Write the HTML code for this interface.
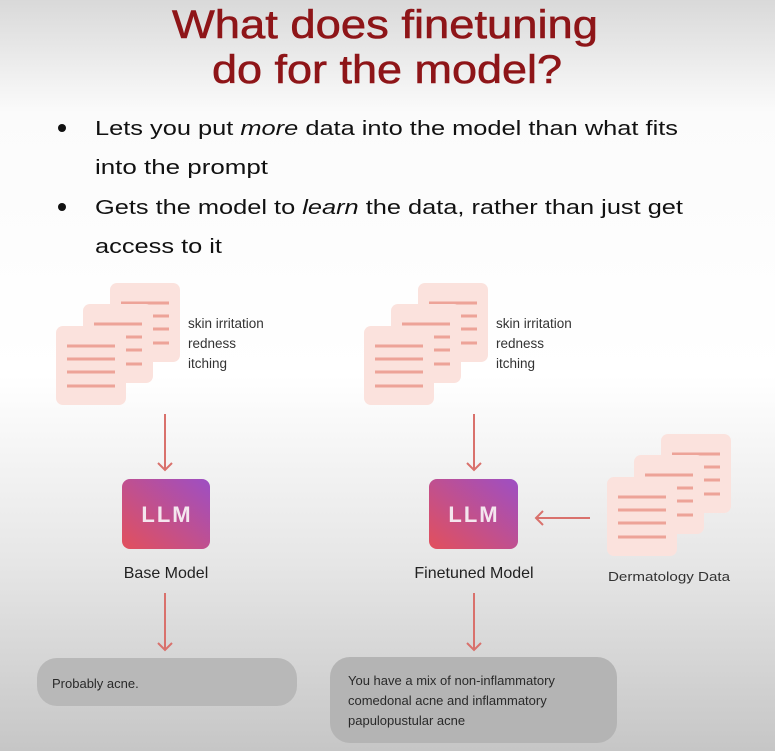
<!DOCTYPE html>
<html><head><meta charset="utf-8"><style>
html,body{margin:0;padding:0;}
body{width:775px;height:751px;overflow:hidden;font-family:"Liberation Sans",sans-serif;}
</style></head><body>
<svg width="775" height="751" viewBox="0 0 775 751" xmlns="http://www.w3.org/2000/svg" font-family="Liberation Sans, sans-serif">
<defs>
<linearGradient id="bg" x1="0" y1="0" x2="0" y2="1">
<stop offset="0" stop-color="#d9d9d9"/>
<stop offset="0.15" stop-color="#fbfbfb"/>
<stop offset="0.5" stop-color="#ffffff"/>
<stop offset="0.75" stop-color="#e6e6e6"/>
<stop offset="1" stop-color="#c6c6c6"/>
</linearGradient>
<linearGradient id="llm" x1="0" y1="1" x2="1" y2="0">
<stop offset="0" stop-color="#e2505c"/>
<stop offset="1" stop-color="#9d4fc4"/>
</linearGradient>
<g id="doc">
<rect x="0" y="0" width="70" height="79" rx="7" fill="#fbe2dd"/>
<g stroke="#eda398" stroke-width="3">
<line x1="11" y1="20" x2="59" y2="20"/><line x1="11" y1="33" x2="59" y2="33"/>
<line x1="11" y1="46" x2="59" y2="46"/><line x1="11" y1="60" x2="59" y2="60"/>
</g>
</g>
<g id="stack">
<use href="#doc" x="54" y="-43"/>
<use href="#doc" x="27" y="-22"/>
<use href="#doc" x="0" y="0"/>
</g>
</defs>
<rect width="775" height="751" fill="url(#bg)"/>
<g fill="#8e1518" stroke="#8e1518" stroke-width="0.6" font-size="40">
<text x="172" y="38" textLength="426" lengthAdjust="spacingAndGlyphs">What does finetuning</text>
<text x="212" y="83" textLength="350" lengthAdjust="spacingAndGlyphs">do for the model?</text>
</g>
<g fill="#111" font-size="20">
<circle cx="62" cy="128" r="4"/><circle cx="62" cy="207" r="4"/>
<text x="95" y="135" textLength="583" lengthAdjust="spacingAndGlyphs">Lets you put <tspan font-style="italic">more</tspan> data into the model than what fits</text>
<text x="95" y="174" textLength="173" lengthAdjust="spacingAndGlyphs">into the prompt</text>
<text x="95" y="214" textLength="588" lengthAdjust="spacingAndGlyphs">Gets the model to <tspan font-style="italic">learn</tspan> the data, rather than just get</text>
<text x="95" y="253" textLength="127" lengthAdjust="spacingAndGlyphs">access to it</text>
</g>
<use href="#stack" x="56" y="326"/>
<use href="#stack" x="364" y="326"/>
<use href="#stack" x="607" y="477"/>
<g fill="#333" font-size="13.5">
<text x="188" y="328">skin irritation</text><text x="188" y="348">redness</text><text x="188" y="368">itching</text>
<text x="496" y="328">skin irritation</text><text x="496" y="348">redness</text><text x="496" y="368">itching</text>
<text x="608" y="581" font-size="13" textLength="122" lengthAdjust="spacingAndGlyphs">Dermatology Data</text>
</g>
<g stroke="#d9716c" stroke-width="2" fill="none">
<path d="M165 414V470M158 463L165 470L172 463"/>
<path d="M474 414V470M467 463L474 470L481 463"/>
<path d="M165 593V650M158 643L165 650L172 643"/>
<path d="M474 593V650M467 643L474 650L481 643"/>
<path d="M590 518H536M543 511L536 518L543 525"/>
</g>
<rect x="122" y="479" width="88" height="70" rx="8" fill="url(#llm)"/>
<rect x="429" y="479" width="89" height="70" rx="8" fill="url(#llm)"/>
<g fill="#f4e6ee" font-size="22" font-weight="bold" text-anchor="middle" letter-spacing="2">
<text x="167" y="522">LLM</text><text x="474" y="522">LLM</text>
</g>
<g fill="#222" font-size="16" text-anchor="middle">
<text x="166" y="578">Base Model</text><text x="474" y="578">Finetuned Model</text>
</g>
<rect x="37" y="658" width="260" height="48" rx="20" fill="#b8b8b8"/>
<rect x="330" y="657" width="287" height="86" rx="20" fill="#b4b4b4"/>
<g fill="#2a2a2a" font-size="13">
<text x="52" y="688">Probably acne.</text>
<text x="348" y="685">You have a mix of non-inflammatory</text>
<text x="348" y="705">comedonal acne and inflammatory</text>
<text x="348" y="725">papulopustular acne</text>
</g>
</svg>
</body></html>
